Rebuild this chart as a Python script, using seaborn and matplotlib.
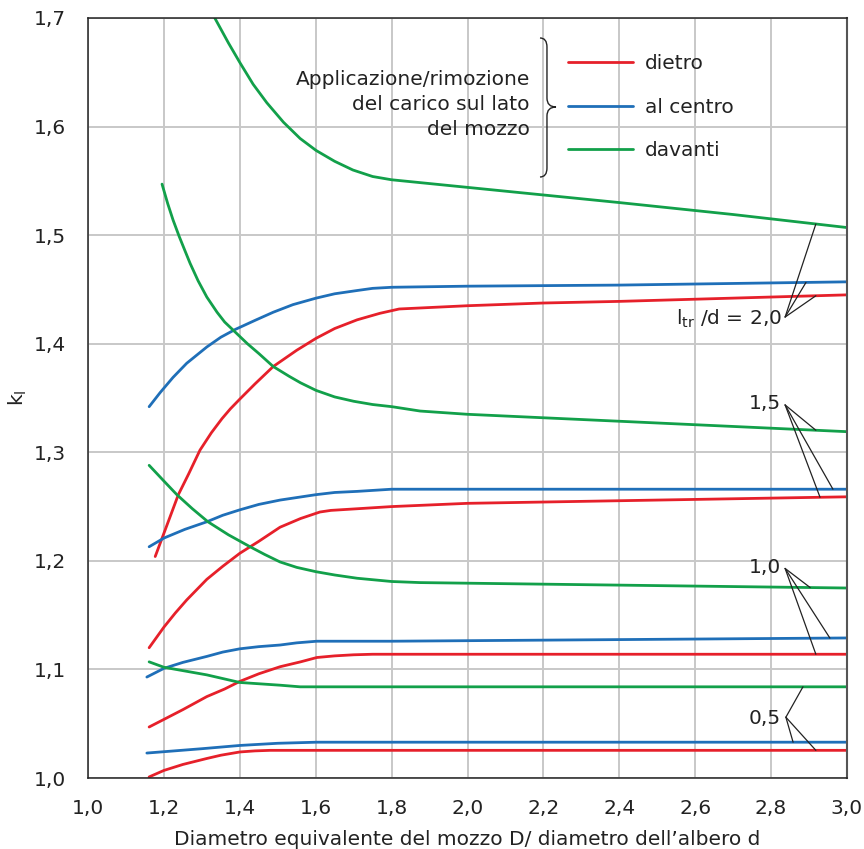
import numpy as np
import pandas as pd
import matplotlib
matplotlib.use("Agg")
import matplotlib.pyplot as plt
import seaborn as sns
from matplotlib.path import Path
from matplotlib.patches import PathPatch

# curve valori letti dal diagramma (D/d, k_l)
# l_tr/d = 2,0
X_DIETRO_20 = [1.177, 1.207, 1.238, 1.265, 1.295, 1.325, 1.353, 1.375, 1.40, 1.44, 1.488, 1.55, 1.601, 1.65, 1.709, 1.769, 1.82, 2.0, 2.2, 2.4, 2.7, 3.0]
K_DIETRO_20 = [1.204, 1.232, 1.261, 1.280, 1.302, 1.318, 1.331, 1.340, 1.349, 1.363, 1.379, 1.394, 1.405, 1.414, 1.422, 1.428, 1.432, 1.435, 1.4375, 1.439, 1.442, 1.445]
X_CENTRO_20 = [1.161, 1.19, 1.224, 1.26, 1.313, 1.35, 1.387, 1.44, 1.488, 1.54, 1.601, 1.65, 1.709, 1.75, 1.801, 2.0, 2.4, 3.0]
K_CENTRO_20 = [1.342, 1.355, 1.369, 1.382, 1.397, 1.406, 1.413, 1.4215, 1.429, 1.436, 1.442, 1.446, 1.449, 1.451, 1.452, 1.453, 1.454, 1.457]
X_DAVANTI_20 = [1.334, 1.37, 1.40, 1.435, 1.471, 1.515, 1.559, 1.601, 1.65, 1.698, 1.75, 1.80, 2.0, 2.2, 2.4, 2.7, 3.0]
K_DAVANTI_20 = [1.700, 1.677, 1.659, 1.639, 1.622, 1.604, 1.589, 1.578, 1.568, 1.560, 1.554, 1.551, 1.544, 1.537, 1.530, 1.519, 1.507]

# l_tr/d = 1,5
X_DIETRO_15 = [1.161, 1.2, 1.23, 1.26, 1.313, 1.355, 1.4, 1.45, 1.506, 1.56, 1.611, 1.64, 1.709, 1.8, 2.0, 3.0]
K_DIETRO_15 = [1.120, 1.139, 1.152, 1.164, 1.183, 1.195, 1.207, 1.218, 1.231, 1.239, 1.245, 1.2465, 1.248, 1.250, 1.253, 1.259]
X_CENTRO_15 = [1.161, 1.2, 1.255, 1.313, 1.355, 1.4, 1.45, 1.506, 1.601, 1.65, 1.709, 1.8, 3.0]
K_CENTRO_15 = [1.213, 1.221, 1.229, 1.236, 1.242, 1.247, 1.252, 1.256, 1.261, 1.263, 1.264, 1.266, 1.266]
X_DAVANTI_15 = [1.195, 1.21, 1.224, 1.24, 1.255, 1.269, 1.29, 1.313, 1.34, 1.36, 1.387, 1.42, 1.45, 1.488, 1.53, 1.56, 1.601, 1.65, 1.70, 1.75, 1.801, 1.875, 2.0, 3.0]
K_DAVANTI_15 = [1.547, 1.529, 1.514, 1.499, 1.486, 1.474, 1.458, 1.443, 1.429, 1.420, 1.411, 1.400, 1.391, 1.379, 1.370, 1.364, 1.357, 1.351, 1.347, 1.344, 1.342, 1.338, 1.335, 1.319]

# l_tr/d = 1,0
X_DIETRO_10 = [1.161, 1.2, 1.25, 1.313, 1.36, 1.4, 1.45, 1.506, 1.56, 1.603, 1.65, 1.70, 1.75, 3.0]
K_DIETRO_10 = [1.047, 1.054, 1.063, 1.075, 1.082, 1.089, 1.096, 1.1025, 1.107, 1.111, 1.1125, 1.1135, 1.114, 1.114]
X_CENTRO_10 = [1.155, 1.2, 1.25, 1.313, 1.355, 1.4, 1.45, 1.506, 1.55, 1.603, 1.8, 3.0]
K_CENTRO_10 = [1.093, 1.101, 1.1065, 1.112, 1.116, 1.119, 1.121, 1.1225, 1.1245, 1.126, 1.126, 1.129]
X_DAVANTI_10 = [1.161, 1.2, 1.234, 1.275, 1.316, 1.37, 1.427, 1.465, 1.506, 1.55, 1.601, 1.65, 1.709, 1.8, 1.875, 3.0]
K_DAVANTI_10 = [1.288, 1.2735, 1.261, 1.248, 1.236, 1.224, 1.213, 1.206, 1.199, 1.194, 1.190, 1.187, 1.184, 1.181, 1.180, 1.175]

# l_tr/d = 0,5
X_DIETRO_05 = [1.161, 1.2, 1.25, 1.313, 1.35, 1.4, 1.44, 1.48, 3.0]
K_DIETRO_05 = [1.001, 1.007, 1.0125, 1.018, 1.021, 1.024, 1.025, 1.0255, 1.0255]
X_CENTRO_05 = [1.155, 1.3, 1.4, 1.5, 1.603, 3.0]
K_CENTRO_05 = [1.023, 1.027, 1.030, 1.032, 1.033, 1.033]
X_DAVANTI_05 = [1.161, 1.2, 1.313, 1.4, 1.506, 1.559, 1.65, 3.0]
K_DAVANTI_05 = [1.107, 1.102, 1.095, 1.088, 1.0855, 1.084, 1.084, 1.084]

LATI = ["dietro", "al centro", "davanti"]
COLORI = ["#e6202a", "#1f6fb8", "#12a04a"]
LTR = ["2,0", "1,5", "1,0", "0,5"]

curve = {
    ("dietro", "2,0"): (X_DIETRO_20, K_DIETRO_20),
    ("al centro", "2,0"): (X_CENTRO_20, K_CENTRO_20),
    ("davanti", "2,0"): (X_DAVANTI_20, K_DAVANTI_20),
    ("dietro", "1,5"): (X_DIETRO_15, K_DIETRO_15),
    ("al centro", "1,5"): (X_CENTRO_15, K_CENTRO_15),
    ("davanti", "1,5"): (X_DAVANTI_15, K_DAVANTI_15),
    ("dietro", "1,0"): (X_DIETRO_10, K_DIETRO_10),
    ("al centro", "1,0"): (X_CENTRO_10, K_CENTRO_10),
    ("davanti", "1,0"): (X_DAVANTI_10, K_DAVANTI_10),
    ("dietro", "0,5"): (X_DIETRO_05, K_DIETRO_05),
    ("al centro", "0,5"): (X_CENTRO_05, K_CENTRO_05),
    ("davanti", "0,5"): (X_DAVANTI_05, K_DAVANTI_05),
}

rows = []
for (lato, ltr), (xs, ks) in curve.items():
    for x, k in zip(xs, ks):
        rows.append({"D_d": x, "k": k, "lato": lato, "curva": lato + ltr})
df = pd.DataFrame(rows)

sns.set_style("white")
plt.rcParams["font.family"] = ["DejaVu Sans"]
FS = 14.5
TXT = "#222222"

fig = plt.figure(figsize=(8.64, 8.49), dpi=100)
ax = fig.add_axes([0.1019, 0.0836, 0.8784, 0.8952])

sns.lineplot(data=df, x="D_d", y="k", hue="lato", hue_order=LATI, palette=COLORI,
             units="curva", estimator=None, sort=False, lw=2.0, ax=ax)

ax.set_xlim(1.0, 3.0)
ax.set_ylim(1.0, 1.7)
xt = np.arange(1.0, 3.01, 0.2)
yt = np.arange(1.0, 1.701, 0.1)
ax.set_xticks(xt)
ax.set_yticks(yt)
ax.set_xticklabels([f"{v:.1f}".replace(".", ",") for v in xt], fontsize=FS)
ax.set_yticklabels([f"{v:.1f}".replace(".", ",") for v in yt], fontsize=FS)
ax.tick_params(axis="x", direction="out", length=8, width=1.0, pad=7, colors=TXT)
ax.tick_params(axis="y", direction="out", length=11, width=1.0, pad=5, colors=TXT)
ax.grid(True, color="#c8c8c8", lw=1.4)
ax.set_axisbelow(True)
for s in ["left", "bottom", "top"]:
    ax.spines[s].set_color(TXT)
    ax.spines[s].set_linewidth(1.1)
ax.spines["right"].set_color("#555555")
ax.spines["right"].set_linewidth(1.5)

ax.set_xlabel("Diametro equivalente del mozzo D/ diametro dell\u2019albero d", fontsize=FS,
              color=TXT, labelpad=9)
ax.set_ylabel(r"k$_{\mathrm{l}}$", fontsize=FS, color=TXT, labelpad=3)

# legenda
h, l = ax.get_legend_handles_labels()
leg = ax.legend(h, l, loc="upper left", bbox_to_anchor=(0.632, 0.952), frameon=False,
                fontsize=FS, handlelength=3.23, handletextpad=0.6, labelspacing=1.2,
                borderpad=0, borderaxespad=0)
for t in leg.get_texts():
    t.set_color(TXT)
for line in leg.get_lines():
    line.set_linewidth(2.0)

ax.text(0.5823, 0.8868, "Applicazione/rimozione\ndel carico sul lato\ndel mozzo",
        transform=ax.transAxes, ha="right", va="center", multialignment="right",
        fontsize=FS, color=TXT, linespacing=1.4)

# graffa
verts = [(0.5955, 0.9737), (0.6047, 0.9737), (0.6047, 0.9618), (0.6047, 0.8947),
         (0.6047, 0.8829), (0.6166, 0.8829), (0.6047, 0.8829), (0.6047, 0.8711),
         (0.6047, 0.8026), (0.6047, 0.7908), (0.5955, 0.7908)]
codes = [Path.MOVETO, Path.CURVE3, Path.CURVE3, Path.LINETO,
         Path.CURVE3, Path.CURVE3, Path.CURVE3, Path.CURVE3,
         Path.LINETO, Path.CURVE3, Path.CURVE3]
ax.add_patch(PathPatch(Path(verts, codes), transform=ax.transAxes, fill=False,
                       lw=1.0, edgecolor=TXT))

# richiami l_tr/d
etichette = {
    "2,0": (r"l$_{\mathrm{tr}}$ /d = 2,0", 2.829, 1.4172, (2.837, 1.4246), [2.918, 2.892, 2.918]),
    "1,5": ("1,5", 2.826, 1.340, (2.837, 1.3436), [2.929, 2.963, 2.918]),
    "1,0": ("1,0", 2.826, 1.1888, (2.837, 1.193), [2.918, 2.955, 2.903]),
    "0,5": ("0,5", 2.826, 1.0497, (2.839, 1.056), [2.918, 2.858, 2.884]),
}
for ltr in LTR:
    testo, tx, ty, conv, targets = etichette[ltr]
    ax.text(tx, ty, testo, ha="right", va="baseline", fontsize=FS, color=TXT)
    for lato, xt_ in zip(LATI, targets):
        xs, ks = curve[(lato, ltr)]
        yt_ = np.interp(xt_, xs, ks)
        ax.annotate("", xy=(xt_, yt_), xytext=conv,
                    arrowprops=dict(arrowstyle="-", lw=0.9, color=TXT,
                                    shrinkA=0, shrinkB=0))

fig.savefig("out.png", dpi=100)
